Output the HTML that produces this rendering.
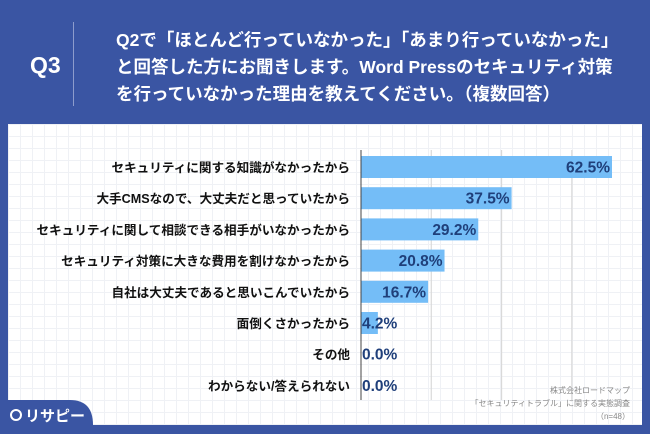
<!DOCTYPE html>
<html><head><meta charset="utf-8"><style>
body{margin:0;width:650px;height:434px;background:#3a55a3;position:relative;overflow:hidden;font-family:"Liberation Sans","Noto Sans CJK JP",sans-serif}
.panel{position:absolute;left:8px;top:124px;width:634px;height:301px;background:#fff;
background-image:linear-gradient(#eff1f5 1px,transparent 1px),linear-gradient(90deg,#eff1f5 1px,transparent 1px);background-size:12px 12px}
.q3{position:absolute;left:30px;top:52px;color:#fff;font-weight:bold;font-size:23px}
.div{position:absolute;left:73px;top:22px;width:1px;height:84px;background:#8d9ccc}
.title{position:absolute;left:116px;top:27px;color:#fff;font-weight:bold;font-size:17.5px;line-height:27px;white-space:nowrap}
.note{position:absolute;right:20px;top:384px;color:#888;font-size:8px;text-align:right;line-height:13px}
</style></head><body>
<div class="q3">Q3</div>
<div class="div"></div>
<div class="title">Q2で「ほとんど行っていなかった」「あまり行っていなかった」<br>と回答した方にお聞きします。Word Pressのセキュリティ対策<br>を行っていなかった理由を教えてください。（複数回答）</div>
<div class="panel"></div>
<svg id="c" width="650" height="434" style="position:absolute;left:0;top:0">
<path d="M0 400 H70 Q93 400 93 425 V434 H0 Z" fill="#3a55a3"/>
<circle cx="16" cy="415" r="5" fill="none" stroke="#fff" stroke-width="2"/>
<text x="25" y="421" fill="#fff" font-size="15" font-weight="bold">リサピー</text>
</svg>
<div class="note">株式会社ロードマップ<br>「セキュリティトラブル」に関する実態調査<br>（n=48）</div>
<script>
const categories=["セキュリティに関する知識がなかったから","大手CMSなので、大丈夫だと思っていたから","セキュリティに関して相談できる相手がいなかったから","セキュリティ対策に大きな費用を割けなかったから","自社は大丈夫であると思いこんでいたから","面倒くさかったから","その他","わからない/答えられない"];
const values=[62.5,37.5,29.2,20.8,16.7,4.2,0.0,0.0];
const gridTicks=[17.5,35,52.5];
const svg=document.getElementById('c');const NS='http://www.w3.org/2000/svg';
const x0=361,k=251/62.5,y0=167,step=31.2,bh=22;
const X=v=>x0+v*k;
function mk(t,a){const e=document.createElementNS(NS,t);for(const n in a)e.setAttribute(n,a[n]);svg.appendChild(e);return e;}
gridTicks.forEach(t=>{const l=mk('line',{x1:X(t),x2:X(t),y1:150,y2:400,stroke:'#d9d9d9','stroke-width':1.2});

});
values.forEach((v,i)=>{const cy=y0+i*step;
const r=mk('rect',{x:x0,y:cy-bh/2,width:v*k,height:bh,fill:'#74bdf7'});


const inside=v>10;
const t=mk('text',{x:inside?X(v)-2:x0+1,y:cy+5.5,'text-anchor':inside?'end':'start',fill:'#1f3f7a','font-size':15.5,'font-weight':'bold'});
t.textContent=v.toFixed(1)+'%';


const c=mk('text',{x:350,y:cy+5,'text-anchor':'end',fill:'#111','font-size':12.6,'font-weight':'bold'});
c.textContent=categories[i];

});
const ax=mk('line',{x1:x0,x2:x0,y1:150,y2:400,stroke:'#444','stroke-width':1});


</script>
</body></html>
